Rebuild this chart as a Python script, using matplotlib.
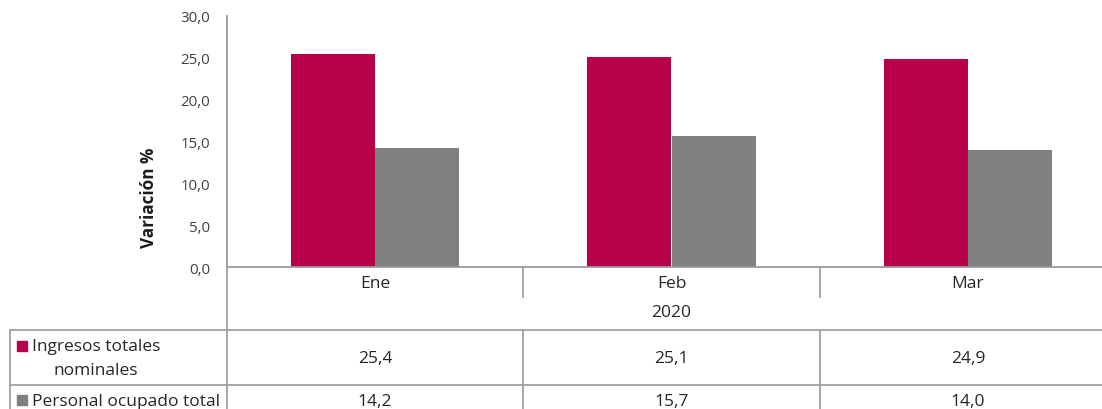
import matplotlib
matplotlib.use("Agg")
import matplotlib.pyplot as plt
import matplotlib.transforms as mtransforms
from matplotlib.lines import Line2D
from matplotlib.patches import Rectangle
import numpy as np

meses = ["Ene", "Feb", "Mar"]
anio = "2020"
ingresos = [25.4, 25.1, 24.9]
personal = [14.2, 15.7, 14.0]
series_nombres = ["Ingresos totales\nnominales", "Personal ocupado total"]
colores = ["#B8004B", "#808080"]
yticks = [0, 5, 10, 15, 20, 25, 30]

W, H = 1102, 410
plt.rcParams["font.family"] = ["Open Sans", "DejaVu Sans"]
fig = plt.figure(figsize=(W / 100, H / 100), dpi=100)

def fx(px):
    return px / W

def fy(py):
    return 1 - py / H

# area del grafico (se sale un poco por la derecha, como en el original)
ax = fig.add_axes([fx(227), fy(268), (1116 - 227) / W, (268 - 17) / H])
x = np.arange(len(meses)) + 0.5
ancho = 0.284
ax.bar(x - ancho / 2, ingresos, ancho, color=colores[0])
ax.bar(x + ancho / 2, personal, ancho, color=colores[1])
ax.set_xlim(0, len(meses))
ax.set_ylim(0, 30)
ax.set_yticks(yticks)
ax.set_yticklabels([f"{v:.1f}".replace(".", ",") for v in yticks], fontsize=10.8, color="#404040")
ax.tick_params(axis="y", length=0, pad=12)
ax.set_xticks([])
for s in ["top", "right"]:
    ax.spines[s].set_visible(False)
for s in ["left", "bottom"]:
    ax.spines[s].set_color("#999999")
    ax.spines[s].set_linewidth(1.3)
ax.set_ylabel("Variación %", fontsize=12.3, fontweight="bold", color="#1a1a1a")
ax.yaxis.set_label_coords(-0.078, 0.28)

# tabla de datos debajo
gris = "#a0a0a0"
lw = 1.3
tr = mtransforms.blended_transform_factory(ax.transData, fig.transFigure)

def hline(x0, x1, y):
    fig.add_artist(Line2D([fx(x0), fx(x1)], [fy(y), fy(y)], color=gris, lw=lw, transform=fig.transFigure))

def vline(xd, y0, y1):
    fig.add_artist(Line2D([xd, xd], [fy(y0), fy(y1)], color=gris, lw=lw, transform=tr))

fig.add_artist(Line2D([fx(227), fx(227)], [fy(268), fy(410)], color=gris, lw=lw, transform=fig.transFigure))
fig.add_artist(Line2D([fx(10), fx(10)], [fy(331), fy(410)], color=gris, lw=lw, transform=fig.transFigure))
hline(10, 1116, 331)
hline(10, 1116, 386)
for i in range(1, len(meses)):
    vline(i, 268, 298)
    vline(i, 331, 410)

fs = 12.5
txt = dict(fontsize=fs, color="#262626", ha="center", va="center")
for i, m in enumerate(meses):
    fig.text(x[i], fy(284), m, transform=tr, **txt)
fig.text(len(meses) / 2, fy(313), anio, transform=tr, **txt)

filas_y = [359, 402]
for fila, vals in enumerate([ingresos, personal]):
    for i, v in enumerate(vals):
        fig.text(x[i], fy(filas_y[fila]), f"{v:.1f}".replace(".", ","), transform=tr, **txt)

# etiquetas de las filas con su clave de color
claves_y = [347, 401]
for fila, nombre in enumerate(series_nombres):
    fig.add_artist(Rectangle((fx(17), fy(claves_y[fila] + 5)), 10 / W, 10 / H,
                             color=colores[fila], transform=fig.transFigure))
    fig.text(fx(32), fy(filas_y[fila]), nombre, fontsize=fs, color="#262626",
             ha="left", va="center", multialignment="center", linespacing=1.65)

fig.savefig("out.png", dpi=100)
